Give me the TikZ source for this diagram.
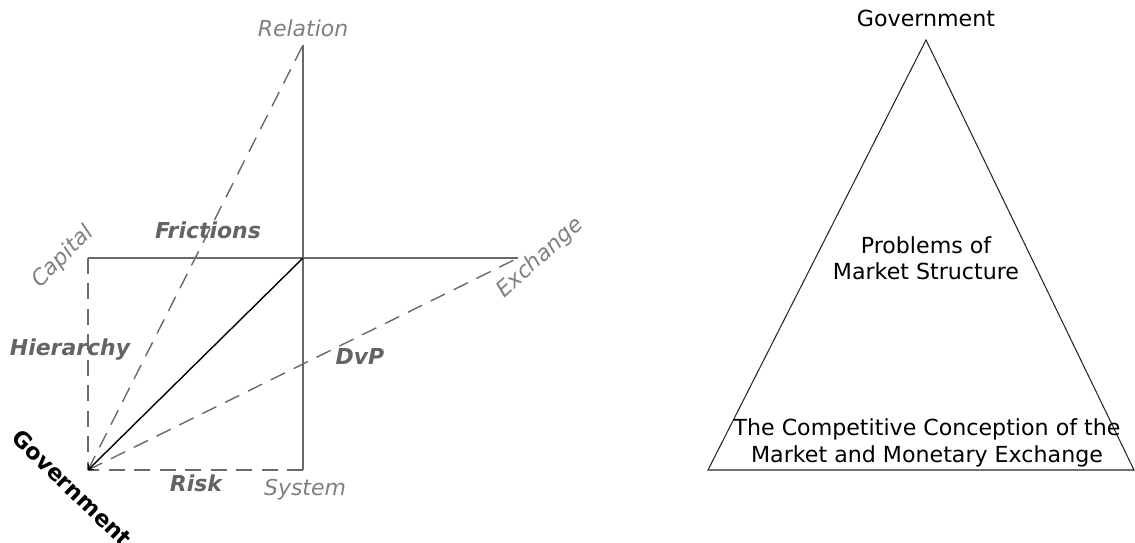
\documentclass[tikz,border=0pt]{standalone}
\usepackage{fontspec}
\setmainfont{DejaVu Sans}
\usetikzlibrary{positioning}
\definecolor{axisgray}{RGB}{128,128,128}
\definecolor{labelgray}{RGB}{100,100,100}
\definecolor{linegray}{RGB}{105,105,105}
\tikzstyle{axislabel} = [text=axisgray, font=\fontsize{12.5}{15}\selectfont\itshape]
\tikzstyle{boldlabel} = [text=labelgray, font=\fontsize{12.5}{15}\selectfont\bfseries\itshape]
\tikzstyle{axisline} = [draw=linegray, line width=0.7pt]
\tikzstyle{dashline} = [draw=linegray, line width=0.8pt, dash pattern=on 9pt off 5.5pt]
\tikzstyle{plaintext} = [font=\fontsize{12.6}{15}\selectfont, align=center]

\begin{document}
\begin{tikzpicture}[x=0.02cm, y=-0.02cm]
\useasboundingbox (0,0) rectangle (1135,543);
% left: the axes
\coordinate (O) at (303,258);
\coordinate (R) at (303,45);
\coordinate (C) at (88,258);
\coordinate (E) at (518,258);
\coordinate (S) at (303,470);
\coordinate (G) at (88,470);
\draw[axisline] (C) -- (E);
\draw[axisline] (R) -- (S);
\draw[dashline] (C) -- (G);
\draw[dashline] (S) -- (G);
\draw[dashline] (G) -- (R);
\draw[dashline] (G) -- (E);
\draw[line width=0.8pt, ->] (O) -- (G);
\node[axislabel] (relation) at (303,28) {Relation};
\node[axislabel, rotate=45] (capital) at (63,257) {Capital};
\node[axislabel, rotate=42] (exchange) at (540,258) {Exchange};
\node[axislabel] (system) at (305,490) {System};
\node[boldlabel] (frictions) at (208,230) {Frictions};
\node[boldlabel] (hierarchy) at (70,350) {Hierarchy};
\node[boldlabel] (dvp) at (360,356) {DvP};
\node[boldlabel] (risk) at (196,483) {Risk};
\node[font=\fontsize{12.8}{15}\selectfont\bfseries, rotate=-44] (govleft) at (72,488) {Government};
% right: the triangle
\coordinate (apex) at (926,40);
\coordinate (baseL) at (708,470);
\coordinate (baseR) at (1134,470);
\draw[draw=black!85, line width=0.6pt] (apex) -- (baseR) -- (baseL) -- cycle;
\node[plaintext] (govtop) at (926,18) {Government};
\node[plaintext] (problems) at (926,258) {Problems of\\Market Structure};
\node[plaintext] (competitive) at (927,443) {The Competitive Conception of the\\Market and Monetary Exchange};
\end{tikzpicture}
\end{document}
